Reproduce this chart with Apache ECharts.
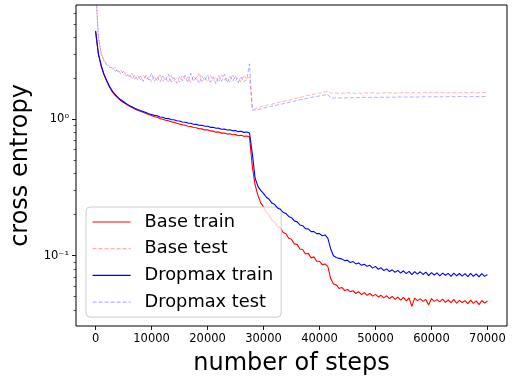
<!DOCTYPE html>
<html>
<head>
<meta charset="utf-8">
<script src="https://cdn.jsdelivr.net/npm/echarts@6/dist/echarts.min.js"></script>
<style>
html,body{margin:0;padding:0;background:#fff;}
#chart{width:513px;height:376px;}
</style>
</head>
<body>
<div id="chart"></div>
<script>
// logging interval (steps) of the recorded values
const STEP = 500;
const seriesNames = ['Base train', 'Base test', 'Dropmax train', 'Dropmax test'];
const xTicks = [0, 10000, 20000, 30000, 40000, 50000, 60000, 70000];
const yMajorTicks = [0.1, 1];
const yMinorTicks = [0.04, 0.05, 0.06, 0.07, 0.08, 0.09, 0.2, 0.3, 0.4, 0.5, 0.6, 0.7, 0.8, 0.9, 2, 3, 4, 5, 6];

const baseTrain = [
4.40, 3.00, 2.46, 2.12, 1.90, 1.72, 1.59, 1.50, 1.43, 1.37,
1.33, 1.29, 1.25, 1.22, 1.19, 1.165, 1.145, 1.125, 1.105, 1.085,
1.065, 1.045, 1.035, 1.012, 1.0, 0.985, 0.975, 0.958, 0.951, 0.935,
0.925, 0.91, 0.905, 0.889, 0.885, 0.871, 0.867, 0.853, 0.851, 0.836,
0.838, 0.822, 0.819, 0.805, 0.806, 0.792, 0.794, 0.779, 0.784, 0.77,
0.772, 0.758, 0.764, 0.75, 0.755, 0.742, 0.45, 0.33, 0.277, 0.244,
0.228, 0.207, 0.199, 0.182, 0.177, 0.163, 0.16, 0.148, 0.145, 0.134,
0.132, 0.122, 0.121, 0.112, 0.111, 0.103, 0.104, 0.096, 0.098, 0.091,
0.091, 0.086, 0.087, 0.083, 0.068, 0.062, 0.061, 0.0575, 0.0585, 0.0555,
0.0565, 0.0545, 0.0553, 0.0528, 0.0545, 0.0518, 0.0535, 0.0512, 0.053, 0.0505,
0.052, 0.0498, 0.0512, 0.049, 0.0508, 0.0485, 0.0502, 0.0478, 0.0497, 0.0472,
0.0495, 0.0465, 0.049, 0.0425, 0.0488, 0.0468, 0.0482, 0.0462, 0.0478, 0.0435,
0.0485, 0.0462, 0.0476, 0.0458, 0.048, 0.0455, 0.0473, 0.0452, 0.0478, 0.0448,
0.047, 0.0453, 0.0468, 0.0445, 0.0472, 0.0447, 0.0466, 0.0438, 0.0469, 0.0449,
0.0465
];

const baseTest = [
9.0, 3.9, 3.05, 2.72, 2.55, 2.45, 2.33, 2.4, 2.22, 2.3,
2.12, 2.2, 2.05, 2.18, 1.98, 2.1, 1.93, 2.12, 1.95, 2.05,
1.88, 2.08, 1.92, 2.15, 1.9, 2.02, 1.86, 2.1, 1.93, 2.0,
1.87, 2.12, 1.95, 2.05, 1.85, 2.08, 1.96, 2.2, 1.9, 2.02,
1.88, 2.1, 1.93, 2.04, 1.86, 2.12, 1.94, 2.0, 1.88, 2.14,
1.92, 2.03, 1.87, 2.1, 1.95, 2.05, 1.2, 1.19, 1.22, 1.23,
1.25, 1.26, 1.28, 1.29, 1.31, 1.32, 1.34, 1.35, 1.37, 1.38,
1.40, 1.42, 1.43, 1.45, 1.46, 1.48, 1.50, 1.51, 1.53, 1.54,
1.56, 1.57, 1.59, 1.60, 1.56, 1.55, 1.56, 1.54, 1.56, 1.55,
1.57, 1.55, 1.56, 1.54, 1.56, 1.55, 1.57, 1.56, 1.55, 1.57,
1.56, 1.55, 1.57, 1.56, 1.58, 1.56, 1.57, 1.55, 1.57, 1.56,
1.58, 1.56, 1.57, 1.56, 1.58, 1.57, 1.56, 1.58, 1.57, 1.56,
1.58, 1.57, 1.58, 1.56, 1.58, 1.57, 1.56, 1.58, 1.57, 1.56,
1.58, 1.57, 1.58, 1.56, 1.57, 1.58, 1.56, 1.57, 1.58, 1.57,
1.57
];

const dropmaxTrain = [
4.45, 3.02, 2.48, 2.14, 1.92, 1.74, 1.61, 1.52, 1.45, 1.39,
1.345, 1.30, 1.265, 1.235, 1.205, 1.18, 1.16, 1.14, 1.12, 1.10,
1.085, 1.068, 1.062, 1.04, 1.035, 1.015, 1.012, 0.995, 0.993, 0.975,
0.972, 0.955, 0.952, 0.938, 0.936, 0.92, 0.918, 0.904, 0.903, 0.889,
0.889, 0.873, 0.874, 0.86, 0.861, 0.846, 0.85, 0.835, 0.838, 0.823,
0.828, 0.812, 0.818, 0.802, 0.808, 0.793, 0.56, 0.37, 0.322, 0.301,
0.286, 0.268, 0.259, 0.243, 0.237, 0.224, 0.219, 0.208, 0.204, 0.194,
0.19, 0.18, 0.177, 0.168, 0.166, 0.158, 0.157, 0.15, 0.15, 0.145,
0.145, 0.14, 0.142, 0.134, 0.112, 0.1, 0.097, 0.0955, 0.0945, 0.092,
0.0925, 0.089, 0.0905, 0.087, 0.0885, 0.085, 0.0865, 0.0835, 0.085, 0.081,
0.0835, 0.0795, 0.0815, 0.0778, 0.08, 0.0765, 0.0788, 0.0755, 0.078, 0.0745,
0.0775, 0.0738, 0.0768, 0.0725, 0.0765, 0.0732, 0.0762, 0.0728, 0.0758, 0.0715,
0.0752, 0.0722, 0.0748, 0.0712, 0.0745, 0.0718, 0.0742, 0.0705, 0.0745, 0.0712,
0.074, 0.0708, 0.0738, 0.0702, 0.0741, 0.0706, 0.0735, 0.0698, 0.0738, 0.0705,
0.0728
];

const dropmaxTest = [
9.5, 4.1, 3.0, 2.68, 2.5, 2.4, 2.38, 2.25, 2.32, 2.15,
2.25, 2.08, 2.15, 1.97, 2.12, 1.95, 2.08, 1.9, 2.1, 1.94,
2.18, 1.9, 2.05, 1.87, 2.08, 1.94, 2.15, 1.88, 2.02, 1.84,
2.06, 1.92, 2.1, 1.86, 2.18, 1.9, 2.03, 1.83, 2.08, 1.93,
2.12, 1.87, 2.05, 1.82, 2.1, 1.9, 2.14, 1.85, 2.06, 1.9,
2.08, 1.86, 2.04, 1.89, 1.95, 2.55, 1.17, 1.165, 1.18, 1.19,
1.21, 1.22, 1.235, 1.25, 1.26, 1.275, 1.29, 1.30, 1.315, 1.33,
1.345, 1.36, 1.375, 1.39, 1.40, 1.415, 1.43, 1.445, 1.46, 1.47,
1.485, 1.50, 1.51, 1.525, 1.43, 1.43, 1.435, 1.43, 1.44, 1.435,
1.44, 1.435, 1.445, 1.44, 1.445, 1.44, 1.45, 1.445, 1.45, 1.445,
1.45, 1.445, 1.455, 1.45, 1.455, 1.45, 1.455, 1.45, 1.46, 1.455,
1.46, 1.455, 1.46, 1.455, 1.46, 1.455, 1.465, 1.46, 1.465, 1.46,
1.465, 1.46, 1.465, 1.46, 1.465, 1.46, 1.47, 1.465, 1.465, 1.46,
1.47, 1.465, 1.465, 1.46, 1.47, 1.465, 1.47, 1.465, 1.465, 1.47,
1.465
];

const FONT = 'DejaVu Sans';
const toPairs = arr => arr.map((v, i) => [i * STEP, v]);
const supMap = {'0': '\u2070', '1': '\u00b9', '-': '\u207b'};
const logLabel = v => {
  const e = String(Math.round(Math.log10(v)));
  return '10' + e.split('').map(c => supMap[c]).join('');
};

const mk = (name, data, color, width, dashed, z) => ({
  name, type: 'line', data: toPairs(data), showSymbol: false, symbol: 'none',
  lineStyle: {color, width, type: dashed ? [4, 2] : 'solid'},
  itemStyle: {color}, z, clip: true, silent: true
});

const chart = echarts.init(document.getElementById('chart'), null, {renderer: 'canvas'});
chart.setOption({
  animation: false,
  backgroundColor: '#ffffff',
  grid: {left: 76, top: 5, right: 6, bottom: 50, containLabel: false, outerBoundsMode: 'none',
    show: true, borderColor: '#000', borderWidth: 1, backgroundColor: 'transparent'},
  legend: {
    orient: 'vertical', left: 86, top: 207,
    itemWidth: 38, itemHeight: 10, itemGap: 8.7,
    padding: [6, 8, 6, 6],
    backgroundColor: 'rgba(255,255,255,0.8)', borderColor: '#cccccc', borderWidth: 1, borderRadius: 4,
    itemStyle: {opacity: 0},
    lineStyle: {width: 1.2},
    textStyle: {fontSize: 17.8, fontFamily: FONT, color: '#000', lineHeight: 18, padding: [0, 0, 0, 9]},
    data: seriesNames
  },
  xAxis: {
    type: 'value', min: -3500, max: 73500,
    axisLine: {show: false, onZero: false}, splitLine: {show: false},
    axisTick: {show: true, customValues: xTicks, length: 4, lineStyle: {color: '#000', width: 0.9}},
    axisLabel: {customValues: xTicks, formatter: v => String(v), color: '#000', fontSize: 11.5, fontFamily: FONT, margin: 7},
    name: 'number of steps', nameLocation: 'middle', nameGap: 26,
    nameTextStyle: {fontSize: 24, fontFamily: FONT, color: '#000'}
  },
  yAxis: [{
    type: 'log', logBase: 10, min: 0.0305, max: 6.89,
    axisLine: {show: false, onZero: false}, splitLine: {show: false}, minorTick: {show: false},
    axisTick: {show: true, customValues: yMajorTicks, length: 4, lineStyle: {color: '#000', width: 0.9}},
    axisLabel: {customValues: yMajorTicks, formatter: logLabel, color: '#000', fontSize: 11.5, fontFamily: FONT, margin: 7},
    name: 'cross entropy', nameLocation: 'middle', nameGap: 37, nameRotate: 90,
    nameTextStyle: {fontSize: 24, fontFamily: FONT, color: '#000'}
  }, {
    type: 'log', logBase: 10, min: 0.0305, max: 6.89, position: 'left', offset: 0,
    axisLine: {show: false, onZero: false}, splitLine: {show: false},
    axisTick: {show: true, customValues: yMinorTicks, length: 2.3, lineStyle: {color: '#000', width: 0.7}},
    axisLabel: {show: false}
  }],
  series: [
    mk(seriesNames[0], baseTrain, '#ff0000', 1.1, false, 2),
    mk(seriesNames[1], baseTest, 'rgba(255,0,0,0.3)', 1, true, 3),
    mk(seriesNames[2], dropmaxTrain, '#0000ff', 1.1, false, 4),
    mk(seriesNames[3], dropmaxTest, 'rgba(0,0,255,0.3)', 1, true, 5)
  ]
});
</script>
</body>
</html>
